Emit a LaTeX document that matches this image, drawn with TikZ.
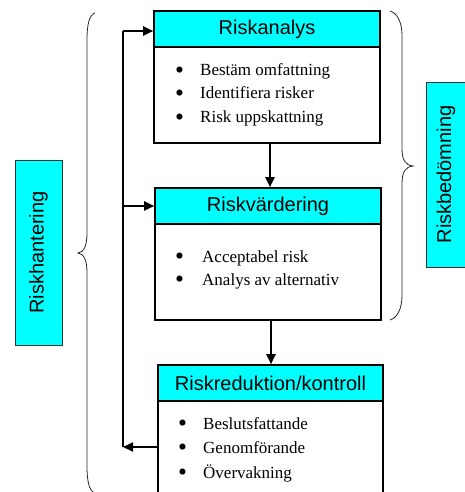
\documentclass[tikz,border=0pt]{standalone}
\usepackage{fontspec}
\setmainfont{Liberation Serif}
\newfontfamily\hdrfont{Liberation Sans}
\usetikzlibrary{arrows.meta,calc}
\definecolor{hcyan}{HTML}{00FFFF}
\newcommand{\bigbul}{\raisebox{-2.5pt}{\scalebox{1.5}{•}}}
\tikzset{
  boxbody/.style={draw, line width=1.6pt, minimum width=226pt, inner sep=0pt},
  boxhead/.style={draw, line width=1.6pt, fill=hcyan, minimum width=226pt, minimum height=36pt, inner sep=0pt, font=\hdrfont\fontsize{20}{24}\selectfont},
  itemtext/.style={anchor=base west, inner sep=0pt, font=\fontsize{17}{20}\selectfont},
  sidelabel/.style={draw=black!80, line width=0.8pt, fill=hcyan, inner sep=0pt, font=\hdrfont\fontsize{20}{24}\selectfont},
  arr/.style={line width=2pt, -{Triangle[length=10pt,width=9pt]}},
  flowline/.style={line width=2pt},
  bracepath/.style={line width=0.8pt, draw=black!85}
}
\begin{document}
\begin{tikzpicture}[x=1pt,y=-1pt]
\useasboundingbox (0,0) rectangle (465,492);
\clip (0,0) rectangle (465,492);
% box 1
\node[boxbody, minimum height=132pt] (b1) at (267,77) {};
\node[boxhead] (h1) at (267,29) {Riskanalys};
\node[itemtext] (i11) at (175,76) {\makebox[25pt][l]{\bigbul}Bestäm omfattning};
\node[itemtext] (i12) at (175,99) {\makebox[25pt][l]{\bigbul}Identifiera risker};
\node[itemtext] (i13) at (175,123) {\makebox[25pt][l]{\bigbul}Risk uppskattning};
% box 2
\node[boxbody, minimum height=132pt] (b2) at (268,254) {};
\node[boxhead] (h2) at (268,206) {Riskvärdering};
\node[itemtext] (i21) at (175,262) {\makebox[27pt][l]{\bigbul}Acceptabel risk};
\node[itemtext] (i22) at (175,285) {\makebox[27pt][l]{\bigbul}Analys av alternativ};
% box 3
\node[boxbody, minimum width=225pt, minimum height=140pt] (b3) at (270.5,435) {};
\node[boxhead, minimum width=225pt] (h3) at (270.5,383) {Riskreduktion/kontroll};
\node[itemtext] (i31) at (178,429) {\makebox[25pt][l]{\bigbul}Beslutsfattande};
\node[itemtext] (i32) at (178,453) {\makebox[25pt][l]{\bigbul}Genomförande};
\node[itemtext] (i33) at (178,478) {\makebox[25pt][l]{\bigbul}Övervakning};
% side labels
\node[sidelabel, minimum width=185pt, minimum height=47pt, rotate=90] (lh) at (38.5,252.5) {Riskhantering};
\node[sidelabel, minimum width=185pt, minimum height=40pt, rotate=90] (lb) at (446,174.5) {Riskbedömning};
% down arrows
\draw[arr] ($(b1.south)+(3,0)$) -- ($(h2.north)+(2,0)$);
\draw[arr] ($(b2.south)+(3,0)$) -- ($(h3.north)+(0.5,0)$);
% feedback loop
\coordinate (fb) at (123,447);
\coordinate (top) at (123,31);
\coordinate (mid) at (123,206);
\draw[arr] (fb -| b3.west) -- (fb);
\draw[flowline] (fb) -- (top);
\draw[arr] (top) -- (top -| b1.west);
\draw[arr] (mid) -- (mid -| b2.west);
% braces
\draw[bracepath] (95,13) .. controls (89,15) and (87,25) .. (87,40) -- (87,233)
  .. controls (87,246) and (84,252) .. (78,253)
  .. controls (84,254) and (87,260) .. (87,273) -- (87,466)
  .. controls (87,481) and (89,491) .. (95,493);
\draw[bracepath] (390,11) .. controls (397,13) and (402,22) .. (402,35) -- (402,148)
  .. controls (402,160) and (405,165) .. (413,166)
  .. controls (405,167) and (402,172) .. (402,184) -- (402,296)
  .. controls (402,309) and (397,318) .. (390,320);
\end{tikzpicture}
\end{document}
